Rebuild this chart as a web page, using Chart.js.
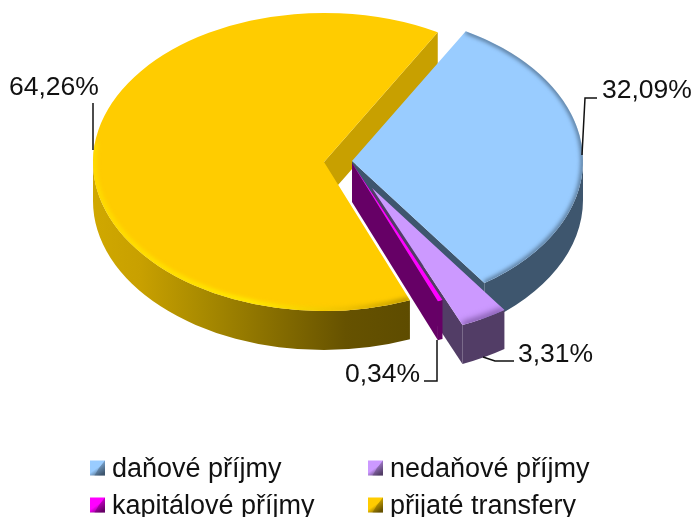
<!DOCTYPE html>
<html>
<head>
<meta charset="utf-8">
<style>
  html, body { margin: 0; padding: 0; background: #fff; }
  #wrap { width: 694px; height: 517px; }
  canvas { filter: blur(0.45px); }
</style>
<script src="https://cdn.jsdelivr.net/npm/chart.js@4"></script>
</head>
<body>
<div id="wrap"><canvas id="pie" width="694" height="517"></canvas></div>
<script>
const categories = ["daňové příjmy", "nedaňové příjmy", "kapitálové příjmy", "přijaté transfery"];
const shares = [32.09, 3.31, 0.34, 64.26];
const topColors = ["#99ccff", "#cc99ff", "#ff00ff", "#ffcc00"];
const wallColors = ["#3e566e", "#523d66", "#660066", "#665200"];

// where each exploded slice sits on the page
const sliceCenters = [[352, 161], [372, 188], [352, 163], [324, 162]];
const FLATTEN = 149 / 231;
const DEPTH = 39;
const RADIUS = 231;

// label text position + leader line
const labelSpots = [
  { x: 602, y: 90, line: [[582, 155], [585, 98], [597, 98]] },
  { x: 518, y: 354, line: [[483, 357], [495, 361], [514, 361]] },
  { x: 345, y: 374, line: [[437, 340], [437, 381], [424, 381]] },
  { x: 9, y: 87, line: [[93, 150], [93, 103]] },
];
const legendSpots = [[90, 468], [368, 468], [90, 505], [368, 505]];

function percentText(v) {
  return v.toFixed(2).replace(".", ",") + "%";
}

function wallFill(ctx, i, cx) {
  if (i !== 3) return wallColors[i];
  const g = ctx.createLinearGradient(cx - RADIUS, 0, cx + 85, 0);
  g.addColorStop(0, "#d0a800");
  g.addColorStop(0.15, "#c8a000");
  g.addColorStop(0.35, "#a88a00");
  g.addColorStop(0.62, "#806800");
  g.addColorStop(0.8, "#665200");
  g.addColorStop(1, "#5e4c00");
  return g;
}

// soft bevel along the rim of a top face
function rimShade(ctx, i, cx, cy, r, ry, a0, a1) {
  ctx.save();
  ctx.beginPath();
  ctx.moveTo(cx, cy);
  ctx.ellipse(cx, cy, r, ry, 0, a0, a1);
  ctx.closePath();
  ctx.clip();
  ctx.beginPath();
  if (i === 3) {
    const g = ctx.createLinearGradient(cx - RADIUS, 0, cx + 85, 0);
    g.addColorStop(0, "#ffdd00");
    g.addColorStop(0.5, "#ffee00");
    g.addColorStop(0.8, "#eec000");
    g.addColorStop(1, "#b89400");
    ctx.strokeStyle = g;
    ctx.lineWidth = 5;
    ctx.filter = "blur(2px)";
    ctx.ellipse(cx, cy, r - 1, ry - 1, 0, a0, Math.PI * 1.04);
  } else if (i === 0) {
    ctx.strokeStyle = "rgba(62,86,110,0.8)";
    ctx.lineWidth = 4;
    ctx.filter = "blur(2px)";
    ctx.ellipse(cx, cy, r, ry, 0, a0, a1);
  } else if (i === 1) {
    ctx.strokeStyle = "#7a54a0";
    ctx.lineWidth = 6;
    ctx.filter = "blur(3px)";
    ctx.ellipse(cx, cy, r, ry, 0, a0, a1);
  }
  ctx.stroke();
  ctx.restore();
}

const sideWalls = {
  id: "sideWalls",
  beforeDatasetDraw(chart) {
    const ctx = chart.ctx;
    const arcs = chart.getDatasetMeta(0).data;
    // back to front
    [3, 0, 1, 2].forEach((i) => {
      const arc = arcs[i];
      const [cx, cy] = sliceCenters[i];
      const r = arc.outerRadius;
      const ry = r * FLATTEN;
      const a0 = arc.startAngle;
      const a1 = arc.endAngle;

      // wall along the closing cut of the slice
      const ex = cx + Math.cos(a1) * r;
      const ey = cy + Math.sin(a1) * ry;
      ctx.fillStyle = i === 3 ? "#c8a000" : wallColors[i];
      ctx.beginPath();
      ctx.moveTo(cx, cy);
      ctx.lineTo(ex, ey);
      ctx.lineTo(ex, ey + DEPTH);
      ctx.lineTo(cx, cy + DEPTH);
      ctx.closePath();
      ctx.fill();

      // outer rim, only the part that faces the viewer
      const full = Math.PI * 2;
      for (let k = -1; k <= 1; k++) {
        const from = Math.max(a0, k * full);
        const to = Math.min(a1, k * full + Math.PI);
        if (to <= from) continue;
        ctx.fillStyle = wallFill(ctx, i, cx);
        ctx.beginPath();
        ctx.ellipse(cx, cy, r, ry, 0, from, to);
        ctx.ellipse(cx, cy + DEPTH, r, ry, 0, to, from, true);
        ctx.closePath();
        ctx.fill();
      }

      // top face is the library's own arc, just moved and flattened
      ctx.save();
      ctx.translate(cx, cy);
      ctx.scale(1, FLATTEN);
      ctx.translate(-arc.x, -arc.y);
      arc.draw(ctx);
      ctx.restore();
      rimShade(ctx, i, cx, cy, r, ry, a0, a1);
    });
    return false;
  },
  afterDraw(chart) {
    const ctx = chart.ctx;
    ctx.textBaseline = "alphabetic";
    ctx.textAlign = "left";

    // leaders and value labels
    shares.forEach((v, i) => {
      const spot = labelSpots[i];
      ctx.strokeStyle = "#111";
      ctx.lineWidth = 1.5;
      ctx.beginPath();
      spot.line.forEach((p, n) => (n ? ctx.lineTo(p[0], p[1]) : ctx.moveTo(p[0], p[1])));
      ctx.stroke();
      ctx.fillStyle = "#111";
      ctx.font = '26.5px "Liberation Sans"';
      ctx.fillText(percentText(v), spot.x, spot.y + 8);
    });

    // legend, two columns
    categories.forEach((name, i) => {
      const [x, y] = legendSpots[i];
      const s = 15;
      const top = y - s / 2;
      const g = ctx.createLinearGradient(x, top, x + s * 0.7, top + s);
      g.addColorStop(0, topColors[i]);
      g.addColorStop(0.55, topColors[i]);
      g.addColorStop(1, wallColors[i]);
      ctx.fillStyle = g;
      ctx.fillRect(x, top, s, s);
      ctx.fillStyle = wallColors[i];
      ctx.globalAlpha = 0.45;
      ctx.beginPath();
      ctx.moveTo(x + s, top);
      ctx.lineTo(x + s, top + s);
      ctx.lineTo(x + s * 0.3, top + s);
      ctx.lineTo(x + s * 0.6, top + s * 0.5);
      ctx.closePath();
      ctx.fill();
      ctx.globalAlpha = 1;
      ctx.fillStyle = "#111";
      ctx.font = '27px "Liberation Sans"';
      ctx.fillText(name, x + 22, y + 9);
    });
  },
};

new Chart(document.getElementById("pie"), {
  type: "pie",
  data: {
    labels: categories,
    datasets: [{
      data: shares,
      backgroundColor: topColors,
      borderWidth: 0,
      radius: RADIUS,
    }],
  },
  options: {
    responsive: false,
    animation: false,
    rotation: 29.5,
    events: [],
    plugins: { legend: { display: false }, tooltip: { enabled: false } },
  },
  plugins: [sideWalls],
});
</script>
</body>
</html>
